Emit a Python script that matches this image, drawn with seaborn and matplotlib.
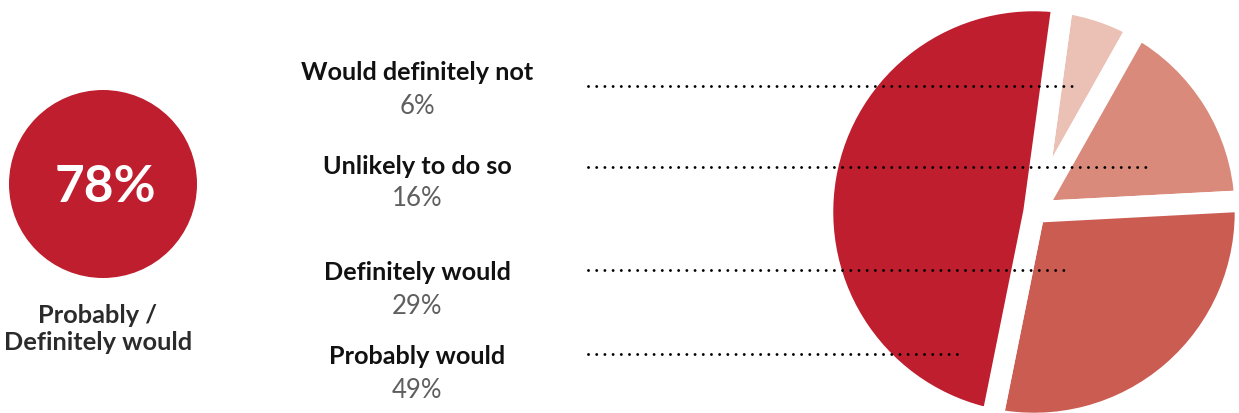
import matplotlib
matplotlib.use("Agg")
import matplotlib.pyplot as plt
from matplotlib.patches import Circle
import seaborn as sns

# ---- data ----
categories = ["Would definitely not", "Unlikely to do so", "Definitely would", "Probably would"]
values = [6, 16, 29, 49]
pct_labels = ["6%", "16%", "29%", "49%"]
summary_value = "78%"
summary_label = "Probably /\nDefinitely would"
colors = ["#EBC0B5", "#D98A7B", "#CB5C52", "#BE1E2D"]

sns.set_theme(style="white")
plt.rcParams["font.family"] = ["Lato", "DejaVu Sans"]

W, H = 1239, 413
fig = plt.figure(figsize=(W / 100, H / 100), dpi=100)
fig.patch.set_facecolor("white")

# ---- pie (right) ----
cx, cy, R = 1034, 212, 211.5
ax_pie = fig.add_axes([(cx - R) / W, (H - cy - R) / H, 2 * R / W, 2 * R / H])
ax_pie.pie(values, colors=sns.color_palette(colors), startangle=82.2, counterclock=False,
           radius=1, wedgeprops=dict(edgecolor="white", linewidth=15.5))
ax_pie.set_xlim(-1, 1)
ax_pie.set_ylim(-1, 1)
ax_pie.axis("off")

# ---- overlay (pixel coordinates) ----
ov = fig.add_axes([0, 0, 1, 1])
ov.set_xlim(0, W)
ov.set_ylim(H, 0)
ov.axis("off")
ov.patch.set_alpha(0)

# summary circle
ov.add_patch(Circle((103, 184), 94, color="#BE1E2D", lw=0))
ov.text(105, 187, summary_value, color="white", fontsize=37, fontweight="bold",
        ha="center", va="center")
ov.text(98, 329, summary_label, color="#2b2b2b", fontsize=18.3, fontweight="bold",
        ha="center", va="center", linespacing=1.2)

# category labels and leader lines
label_y = [73, 166, 272, 357]
pct_y = [106, 199, 307, 390]
line_y = [86, 167, 270, 354]
line_end = [1077, 1153, 1068, 957]
for cat, pct, ly, py, yy, xe in zip(categories, pct_labels, label_y, pct_y, line_y, line_end):
    ov.text(417, ly, cat, color="#111111", fontsize=18.2, fontweight="bold", ha="center", va="center")
    ov.text(417, py, pct, color="#5f5f5f", fontsize=18.5, ha="center", va="center")
    ov.plot([588, xe], [yy, yy], color="black", lw=2.1, linestyle=(0, (0.01, 2.8)),
            dash_capstyle="round", zorder=5)

fig.savefig("out.png", dpi=100, facecolor="white")
